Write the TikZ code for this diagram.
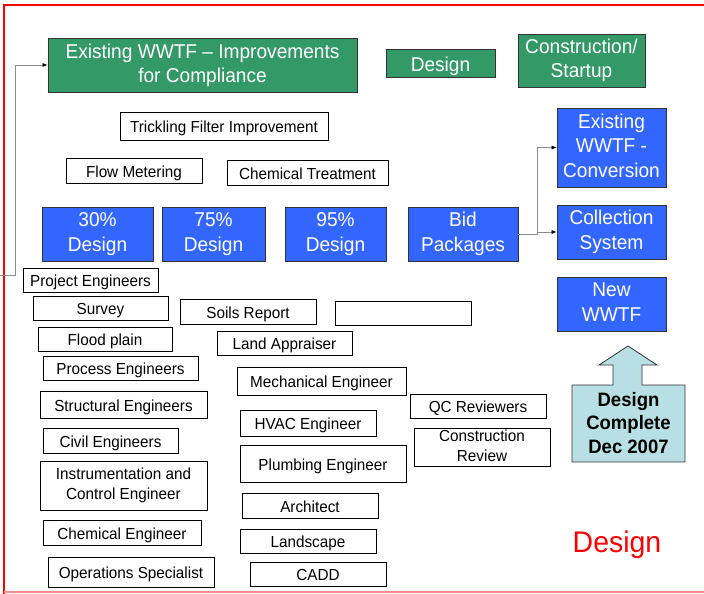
\documentclass[tikz,border=0pt]{standalone}
\usepackage{fontspec}
\setmainfont[FakeStretch=0.955]{Liberation Sans}
\usetikzlibrary{arrows.meta}
\definecolor{boxgreen}{RGB}{51,153,102}
\definecolor{boxblue}{RGB}{51,102,255}
\definecolor{arrowcyan}{RGB}{183,223,228}
\definecolor{framered}{RGB}{255,0,0}
\newcommand\linestrut{\rule[-0.212em]{0pt}{1.117em}}
\newcommand\topstrut[1]{\rule[-0.212em]{0pt}{\dimexpr1.117em+#1\relax}}
\tikzset{
  big/.style={draw=black!80, line width=0.8pt, text=white, align=center, inner sep=0pt,
    font=\fontsize{20}{24.5}\selectfont,
    execute at begin node={\topstrut{3.5pt}}, execute at end node=\linestrut},
  greenbox/.style={big, fill=boxgreen},
  bluebox/.style={big, fill=boxblue},
  smallbox/.style={draw=black, line width=0.8pt, fill=white, align=center, inner sep=0pt,
    font=\fontsize{16}{20}\selectfont,
    execute at begin node={\topstrut{2pt}}, execute at end node=\linestrut},
  conn/.style={draw=black!45, line width=0.7pt, -{Latex[length=5pt,width=4pt,black]}},
}
\begin{document}
\begin{tikzpicture}[x=1pt,y=-1pt]
\useasboundingbox (0,0) rectangle (704,594);
\draw[framered, line width=2pt] (4,600) -- (4,5) -- (710,5);
\draw[framered!45, line width=1.2pt] (4,592) -- (710,592);

% top row
\node[greenbox, minimum width=309, minimum height=54, font=\fontsize{20}{24}\selectfont] (imp) at (202.5,65) {Existing WWTF -- Improvements\\for Compliance};
\node[greenbox, minimum width=109, minimum height=28] (des) at (440.5,63) {Design};
\node[greenbox, minimum width=127, minimum height=53] (cons) at (581.5,60.5) {Construction/\\Startup};

\node[smallbox, minimum width=208, minimum height=28] (trick) at (224,126) {Trickling Filter Improvement};
\node[smallbox, minimum width=136, minimum height=25] (flow) at (134,170.5) {Flow Metering};
\node[smallbox, minimum width=161, minimum height=25] (chem) at (307.5,172.5) {Chemical Treatment};

\node[bluebox, minimum width=111, minimum height=54] (d30) at (97.5,234) {30\%\\Design};
\node[bluebox, minimum width=103, minimum height=54] (d75) at (213.5,234) {75\%\\Design};
\node[bluebox, minimum width=101, minimum height=54] (d95) at (335.5,234) {95\%\\Design};
\node[bluebox, minimum width=110, minimum height=54] (bid) at (463,234) {Bid\\Packages};

\node[bluebox, minimum width=109, minimum height=79] (conv) at (611.5,147.5) {Existing\\WWTF -\\Conversion};
\node[bluebox, minimum width=109, minimum height=54] (coll) at (611.5,232) {Collection\\System};
\node[bluebox, minimum width=109, minimum height=54] (neww) at (611.5,304) {New\\WWTF};

% lower boxes
\node[smallbox, minimum width=135, minimum height=24] (proj) at (90.5,280) {Project Engineers};
\node[smallbox, minimum width=135, minimum height=24] (survey) at (100.5,308) {Survey};
\node[smallbox, minimum width=136, minimum height=25] (soils) at (248,311.5) {Soils Report};
\node[smallbox, minimum width=136, minimum height=24] (empty) at (403,313) {};
\node[smallbox, minimum width=134, minimum height=24] (flood) at (105,339) {Flood plain};
\node[smallbox, minimum width=135, minimum height=24] (land) at (284.5,343) {Land Appraiser};
\node[smallbox, minimum width=155, minimum height=24] (proc) at (120.5,368) {Process Engineers};
\node[smallbox, minimum width=169, minimum height=28] (mech) at (321.5,381) {Mechanical Engineer};
\node[smallbox, minimum width=167, minimum height=27] (struct) at (123.5,404.5) {Structural Engineers};
\node[smallbox, minimum width=136, minimum height=24] (qc) at (478,406) {QC Reviewers};
\node[smallbox, minimum width=135, minimum height=25] (civil) at (110.5,440.5) {Civil Engineers};
\node[smallbox, minimum width=136, minimum height=26] (hvac) at (308,423) {HVAC Engineer};
\node[smallbox, minimum width=136, minimum height=38] (crev) at (482,447) {Construction\\Review};
\node[smallbox, minimum width=166, minimum height=37] (plumb) at (323,463.5) {Plumbing Engineer};
\node[smallbox, minimum width=167, minimum height=49] (instr) at (123.5,485.5) {Instrumentation and\\Control Engineer};
\node[smallbox, minimum width=136, minimum height=25] (arch) at (310,505.5) {Architect};
\node[smallbox, minimum width=158, minimum height=25] (chemeng) at (122,532.5) {Chemical Engineer};
\node[smallbox, minimum width=136, minimum height=24] (landsc) at (308,541) {Landscape};
\node[smallbox, minimum width=166, minimum height=30] (ops) at (131,572) {Operations Specialist};
\node[smallbox, minimum width=136, minimum height=24] (cadd) at (318,574) {CADD};

% milestone arrow
\draw[black!80, fill=arrowcyan, line width=0.8pt]
  (572,385) -- (613,385) -- (613,365) -- (599,365) -- (628,346) -- (657,365)
  -- (642,365) -- (642,385) -- (685,385) -- (685,462) -- (572,462) -- cycle;
\node[align=center, inner sep=0pt, font=\bfseries\fontsize{19.4}{23.5}\selectfont] (milestone) at (628.5,423) {Design\\Complete\\Dec 2007};

\node[text=framered, inner sep=0pt, font=\fontsize{29.8}{34}\selectfont] (title) at (617,545) {Design};

% connectors
\coordinate (src) at (0,275);
\draw[conn] (src) -- (15,275) |- (imp.west);
\draw[conn] (bid.east) -- ++(19,0) |- (conv.west);
\draw[conn] (bid.east) -- ++(19,0) |- (coll.west);
\end{tikzpicture}
\end{document}
